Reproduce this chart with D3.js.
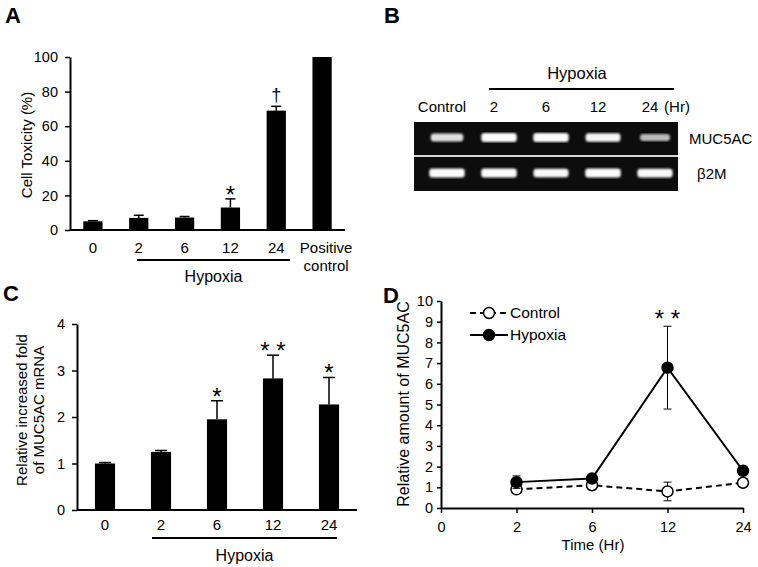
<!DOCTYPE html>
<html>
<head>
<meta charset="utf-8">
<script src="https://cdn.jsdelivr.net/npm/d3@7"></script>
<style>
  body { margin: 0; background: #fff; }
  svg text { font-family: "Liberation Sans", Arial, sans-serif; fill: #000; }
  svg text.panel-label { font-weight: 700; font-size: 22px; }
  .tick text { font-size: 14.5px; }
</style>
</head>
<body>
<svg width="758" height="567"></svg>
<script>
// ---- data ----
var toxCats = ["0", "2", "6", "12", "24", "Positive control"];
var toxMean = [5, 7, 7.2, 13, 69, 100];
var toxErr = [0.4, 1.5, 0.6, 5, 2.5, 0];
var toxMarks = ["", "", "", "*", "\u2020", ""];

var gelLanes = ["Control", "2", "6", "12", "24"];
var muc5acBand = [0.78, 0.97, 0.96, 0.93, 0.62];
var b2mBand = [0.96, 0.97, 0.94, 0.97, 0.95];

var mrnaCats = ["0", "2", "6", "12", "24"];
var mrnaMean = [1.0, 1.25, 1.95, 2.83, 2.27];
var mrnaErr = [0.02, 0.03, 0.4, 0.5, 0.58];
var mrnaMarks = ["", "", "*", "**", "*"];

var timeCats = ["0", "2", "6", "12", "24"];
var ctrlMean = [null, 0.9, 1.1, 0.8, 1.22];
var ctrlErr = [null, 0.1, 0.08, 0.45, 0.1];
var hypMean = [null, 1.25, 1.42, 6.78, 1.8];
var hypErr = [null, 0.3, 0.1, 2.0, 0.2];
var timeMarks = ["", "", "", "**", ""];

var svg = d3.select("svg");

function panelLabel(t, x, y) {
    svg.append("text").attr("class", "panel-label").attr("x", x).attr("y", y).text(t);
}

function hypoxiaBar(g, x1, x2, y, labelY) {
    g.append("line").attr("x1", x1).attr("x2", x2).attr("y1", y).attr("y2", y)
        .attr("stroke", "#000").attr("stroke-width", 2);
    g.append("text").attr("x", (x1 + x2) / 2).attr("y", labelY)
        .attr("text-anchor", "middle").style("font-size", "16px").text("Hypoxia");
}

function styleAxis(a) {
    a.select(".domain").attr("stroke-width", 2);
    a.selectAll(".tick line").attr("stroke-width", 1.5);
}

// "**" -> "* *" so the stars sit apart like in the figure
function starText(m) { return m.split("").join(" "); }

//////////// A : cell toxicity ////////////
panelLabel("A", 5, 23);
var gA = svg.append("g");
var xA = d3.scaleBand().domain(toxCats).range([70, 345]).paddingInner(0.58).paddingOuter(0.29);
var yA = d3.scaleLinear().domain([0, 100]).range([230, 57]);

gA.selectAll("rect.bar").data(toxCats).enter().append("rect")
    .attr("x", d => xA(d)).attr("width", xA.bandwidth())
    .attr("y", (d, i) => yA(toxMean[i]))
    .attr("height", (d, i) => yA(0) - yA(toxMean[i]))
    .attr("fill", "#000");

gA.selectAll("g.err").data(toxCats).enter().append("g").each(function (d, i) {
    if (!toxErr[i]) return;
    var cx = xA(d) + xA.bandwidth() / 2, g = d3.select(this);
    g.append("line").attr("x1", cx).attr("x2", cx)
        .attr("y1", yA(toxMean[i])).attr("y2", yA(toxMean[i] + toxErr[i]))
        .attr("stroke", "#000").attr("stroke-width", 1.5);
    g.append("line").attr("x1", cx - 5).attr("x2", cx + 5)
        .attr("y1", yA(toxMean[i] + toxErr[i])).attr("y2", yA(toxMean[i] + toxErr[i]))
        .attr("stroke", "#000").attr("stroke-width", 1.5);
});

gA.selectAll("text.mark").data(toxCats).enter().append("text")
    .attr("x", d => xA(d) + xA.bandwidth() / 2)
    .attr("y", (d, i) => yA(toxMean[i] + toxErr[i]) - (toxMarks[i] === "*" ? -4 : 5))
    .attr("text-anchor", "middle")
    .style("font-size", (d, i) => toxMarks[i] === "*" ? "24px" : "18px")
    .text((d, i) => toxMarks[i]);

var axA = gA.append("g").attr("transform", "translate(70,0)")
    .call(d3.axisLeft(yA).tickValues([0, 20, 40, 60, 80, 100]).tickSize(5).tickPadding(7).tickSizeOuter(0));
styleAxis(axA);
gA.append("line").attr("x1", 70).attr("x2", 345).attr("y1", yA(0)).attr("y2", yA(0))
    .attr("stroke", "#000").attr("stroke-width", 2);

gA.selectAll("text.xl").data(toxCats).enter().append("text")
    .attr("x", d => xA(d) + xA.bandwidth() / 2 + (d.length > 3 ? 4 : 0))
    .attr("y", 253).attr("text-anchor", "middle").style("font-size", "15px")
    .each(function (d) {
        var words = d.split(" "), t = d3.select(this);
        words.forEach((w, k) => t.append("tspan").attr("x", t.attr("x")).attr("dy", k ? 18 : 0).text(w));
    });

hypoxiaBar(gA, 137, 290, 260, 282);
gA.append("text").attr("transform", "translate(32,145) rotate(-90)")
    .attr("text-anchor", "middle").style("font-size", "15px").text("Cell Toxicity (%)");

//////////// B : gel ////////////
panelLabel("B", 384, 23);
var gB = svg.append("g");
var xB = d3.scaleBand().domain(gelLanes).range([421, 681]);

var defs = svg.append("defs");
defs.append("filter").attr("id", "glow").append("feGaussianBlur").attr("stdDeviation", 0.9);

gB.append("text").attr("x", 577).attr("y", 79).attr("text-anchor", "middle")
    .style("font-size", "16.5px").text("Hypoxia");
gB.append("line").attr("x1", 489).attr("x2", 674).attr("y1", 89).attr("y2", 89)
    .attr("stroke", "#000").attr("stroke-width", 2);
gB.selectAll("text.lane").data(gelLanes).enter().append("text")
    .attr("x", d => xB(d) + xB.bandwidth() / 2 - 5)
    .attr("y", 112).attr("text-anchor", "middle").style("font-size", "15px")
    .text(d => d);
gB.append("text").attr("x", 677).attr("y", 112).attr("text-anchor", "middle")
    .style("font-size", "15px").text("(Hr)");

var rows = [
    { name: "MUC5AC", y0: 122, y1: 155, bands: muc5acBand, lx: 689 },
    { name: "\u03b22M", y0: 157, y1: 191, bands: b2mBand, lx: 697 }
];
rows.forEach(function (r) {
    gB.append("rect").attr("x", 414).attr("y", r.y0).attr("width", 264).attr("height", r.y1 - r.y0)
        .attr("fill", "#0d0d0d");
    var cy = (r.y0 + r.y1) / 2;
    gB.selectAll(null).data(gelLanes).enter().append("rect")
        .attr("x", (d, i) => xB(d) + xB.bandwidth() / 2 - 18 + (1 - r.bands[i]) * 8)
        .attr("width", (d, i) => 36 - (1 - r.bands[i]) * 16)
        .attr("y", (d, i) => cy - 1 - (2 + 2.5 * r.bands[i]))
        .attr("height", (d, i) => 2 * (2 + 2.5 * r.bands[i]))
        .attr("rx", 3)
        .attr("fill", (d, i) => d3.interpolateGreys(1 - r.bands[i]))
        .attr("filter", "url(#glow)");
    gB.append("text").attr("x", r.lx).attr("y", cy + 5).style("font-size", "15px").text(r.name);
});
gB.append("rect").attr("x", 414).attr("y", 155).attr("width", 264).attr("height", 2).attr("fill", "#d8d8d8");

//////////// C : mRNA ////////////
panelLabel("C", 3, 301);
var gC = svg.append("g");
var xC = d3.scaleBand().domain(mrnaCats).range([77, 357]).paddingInner(0.64).paddingOuter(0.32);
var yC = d3.scaleLinear().domain([0, 4]).range([510, 324]);

gC.selectAll("rect.bar").data(mrnaCats).enter().append("rect")
    .attr("x", d => xC(d)).attr("width", xC.bandwidth())
    .attr("y", (d, i) => yC(mrnaMean[i]))
    .attr("height", (d, i) => yC(0) - yC(mrnaMean[i]))
    .attr("fill", "#000");

gC.selectAll("g.err").data(mrnaCats).enter().append("g").each(function (d, i) {
    var cx = xC(d) + xC.bandwidth() / 2, g = d3.select(this);
    var top = yC(mrnaMean[i] + mrnaErr[i]);
    g.append("line").attr("x1", cx).attr("x2", cx).attr("y1", yC(mrnaMean[i])).attr("y2", top)
        .attr("stroke", "#000").attr("stroke-width", 1.5);
    g.append("line").attr("x1", cx - 6).attr("x2", cx + 6).attr("y1", top).attr("y2", top)
        .attr("stroke", "#000").attr("stroke-width", 1.5);
});

gC.selectAll("text.mark").data(mrnaCats).enter().append("text")
    .attr("x", d => xC(d) + xC.bandwidth() / 2)
    .attr("y", (d, i) => yC(mrnaMean[i] + mrnaErr[i]) + 4)
    .attr("text-anchor", "middle").style("font-size", "24px")
    .text((d, i) => starText(mrnaMarks[i]));

var axC = gC.append("g").attr("transform", "translate(77,0)")
    .call(d3.axisLeft(yC).ticks(4).tickSize(5).tickPadding(7).tickSizeOuter(0));
styleAxis(axC);
gC.append("line").attr("x1", 77).attr("x2", 357).attr("y1", yC(0)).attr("y2", yC(0))
    .attr("stroke", "#000").attr("stroke-width", 2);
gC.selectAll("text.xl").data(mrnaCats).enter().append("text")
    .attr("x", d => xC(d) + xC.bandwidth() / 2).attr("y", 530)
    .attr("text-anchor", "middle").style("font-size", "15px").text(d => d);

hypoxiaBar(gC, 152, 337, 538, 561);
var yl = gC.append("text").attr("transform", "translate(0,410) rotate(-90)")
    .attr("text-anchor", "middle").style("font-size", "15px");
yl.append("tspan").attr("x", 0).attr("y", 27).text("Relative increased fold");
yl.append("tspan").attr("x", 0).attr("y", 44).text("of MUC5AC mRNA");

//////////// D : time course ////////////
panelLabel("D", 383, 303);
var gD = svg.append("g");
var xD = d3.scalePoint().domain(timeCats).range([441, 743]);
var yD = d3.scaleLinear().domain([0, 10]).range([508, 301]);

var axDy = gD.append("g").attr("transform", "translate(441,0)")
    .call(d3.axisLeft(yD).ticks(10).tickSize(4).tickPadding(4).tickSizeOuter(0));
styleAxis(axDy);
var axDx = gD.append("g").attr("transform", "translate(0," + yD(0) + ")")
    .call(d3.axisBottom(xD).tickSize(5).tickPadding(9).tickSizeOuter(0));
styleAxis(axDx);

gD.append("text").attr("x", 593).attr("y", 550).attr("text-anchor", "middle")
    .style("font-size", "15px").text("Time (Hr)");
gD.append("text").attr("transform", "translate(409,404) rotate(-90)")
    .attr("text-anchor", "middle").style("font-size", "16px").text("Relative amount of MUC5AC");

var series = [
    { name: "Control", mean: ctrlMean, err: ctrlErr, dash: "6,4", fill: "#fff" },
    { name: "Hypoxia", mean: hypMean, err: hypErr, dash: null, fill: "#000" }
];
var line = d3.line().defined(d => d.v !== null).x(d => xD(d.t)).y(d => yD(d.v));

series.forEach(function (s) {
    var pts = timeCats.map((t, i) => ({ t: t, v: s.mean[i], e: s.err[i] })).filter(p => p.v !== null);
    pts.forEach(function (p) {
        var cx = xD(p.t);
        [p.v - p.e, p.v + p.e].forEach(function (end) {
            gD.append("line").attr("x1", cx).attr("x2", cx).attr("y1", yD(p.v)).attr("y2", yD(end))
                .attr("stroke", "#000").attr("stroke-width", 1);
            gD.append("line").attr("x1", cx - 4).attr("x2", cx + 4).attr("y1", yD(end)).attr("y2", yD(end))
                .attr("stroke", "#000").attr("stroke-width", 1);
        });
    });
    gD.append("path").datum(pts).attr("d", line).attr("fill", "none")
        .attr("stroke", "#000").attr("stroke-width", 2).attr("stroke-dasharray", s.dash);
    gD.selectAll(null).data(pts).enter().append("circle")
        .attr("cx", d => xD(d.t)).attr("cy", d => yD(d.v)).attr("r", 5.5)
        .attr("fill", s.fill).attr("stroke", "#000").attr("stroke-width", 1.5);
});

gD.selectAll("text.mark").data(timeCats).enter().append("text")
    .attr("x", d => xD(d)).attr("y", (d, i) => timeMarks[i] ? yD(hypMean[i] + hypErr[i]) + 1 : 0)
    .attr("text-anchor", "middle").style("font-size", "24px")
    .text((d, i) => starText(timeMarks[i]));

// legend
series.forEach(function (s, k) {
    var ly = 313 + k * 22;
    gD.append("line").attr("x1", 470).attr("x2", 508).attr("y1", ly).attr("y2", ly)
        .attr("stroke", "#000").attr("stroke-width", 2).attr("stroke-dasharray", s.dash);
    gD.append("circle").attr("cx", 489).attr("cy", ly).attr("r", 5.5)
        .attr("fill", s.fill).attr("stroke", "#000").attr("stroke-width", 1.5);
    gD.append("text").attr("x", 510).attr("y", ly + 5).style("font-size", "15.5px").text(s.name);
});
</script>
</body>
</html>
